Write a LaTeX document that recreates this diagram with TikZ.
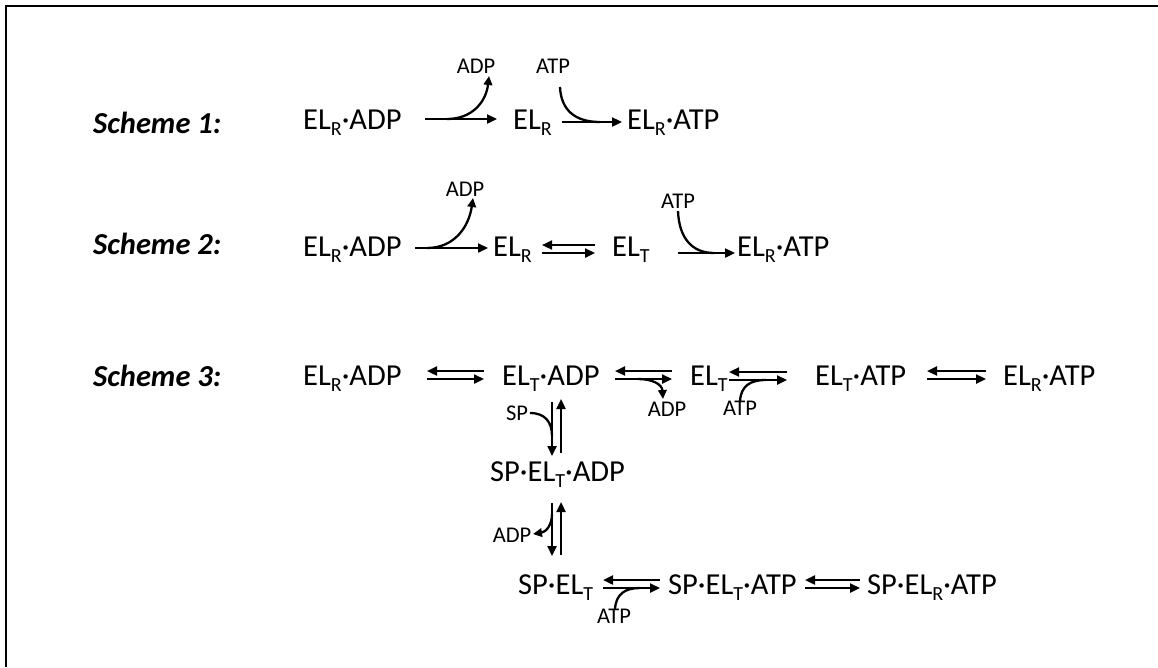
\documentclass[tikz,border=0pt]{standalone}
\usepackage{fontspec}
\setmainfont{Carlito}
\usetikzlibrary{arrows.meta}
\newcommand\sbs[1]{\raisebox{-6pt}{\fontsize{20}{20}\selectfont #1}}
\tikzset{
  species/.style={anchor=base west, inner sep=0pt, font=\fontsize{30.5}{34}\selectfont},
  schemelbl/.style={anchor=base west, inner sep=0pt, font=\fontsize{30.5}{34}\selectfont\bfseries\itshape},
  small/.style={anchor=base, inner sep=0pt, font=\fontsize{22.5}{24}\selectfont},
  rxn/.style={line width=2.3pt, -{Triangle[length=10pt,width=9pt]}},
  branch/.style={line width=2.3pt},
  branchhead/.style={line width=2.3pt, -{Triangle[length=9pt,width=8.5pt]}},
  frame/.style={line width=2pt}
}
% equilibrium double arrow: name, x1, x2, y
\newcommand\eqarrow[4]{%
  \coordinate (#1l1) at (#2,#4-4); \coordinate (#1r1) at (#3,#4-4);
  \coordinate (#1l2) at (#2,#4+4); \coordinate (#1r2) at (#3,#4+4);
  \draw[rxn] (#1r1) -- (#1l1);
  \draw[rxn] (#1l2) -- (#1r2);
}
\begin{document}
\begin{tikzpicture}[x=1pt,y=-1pt]
\useasboundingbox (0,0) rectangle (1158,667);
\coordinate (fbl) at (5.5,667); \coordinate (ftl) at (5.5,6); \coordinate (ftr) at (1158,6);
\draw[frame] (fbl) -- (ftl) -- (ftr);

% scheme labels
\node[schemelbl] (s1) at (93,133) {Scheme 1:};
\node[schemelbl] (s2) at (93,254) {Scheme 2:};
\node[schemelbl] (s3) at (93,386) {Scheme 3:};

% ---------- Scheme 1 ----------
\node[species] (a1) at (303,129) {EL\sbs{R}·ADP};
\node[species] (a2) at (513,129) {EL\sbs{R}};
\node[species] (a3) at (627,129) {EL\sbs{R}·ATP};
\node[small] (a1adp) at (476,73) {ADP};
\node[small] (a1atp) at (553,73) {ATP};
\coordinate (a1s) at (425,119); \coordinate (a1e) at (497,119);
\draw[rxn] (a1s) -- (a1e);
\coordinate (a1b) at (447,119); \coordinate (a1t) at (489,76);
\draw[branchhead] (a1b) .. controls (472,119) and (486,102) .. (a1t);
\coordinate (a2s) at (562,122); \coordinate (a2e) at (622,122);
\draw[rxn] (a2s) -- (a2e);
\coordinate (a2b) at (560,87); \coordinate (a2j) at (600,122);
\draw[branch] (a2b) .. controls (561,110) and (575,122) .. (a2j);

% ---------- Scheme 2 ----------
\node[species] (b1) at (303,256.5) {EL\sbs{R}·ADP};
\node[species] (b2) at (493,256.5) {EL\sbs{R}};
\node[species] (b3) at (612,256.5) {EL\sbs{T}};
\node[species] (b4) at (737,256.5) {EL\sbs{R}·ATP};
\node[small] (b1adp) at (465,196) {ADP};
\node[small] (b1atp) at (678,208) {ATP};
\coordinate (b1s) at (415,248); \coordinate (b1e) at (488,248);
\draw[rxn] (b1s) -- (b1e);
\coordinate (b1b) at (427,248); \coordinate (b1t) at (473,198);
\draw[branchhead] (b1b) .. controls (455,248) and (469,226) .. (b1t);
\eqarrow{be}{542}{595}{249}
\coordinate (b3s) at (678,253); \coordinate (b3e) at (735,253);
\draw[rxn] (b3s) -- (b3e);
\coordinate (b3b) at (678,211); \coordinate (b3j) at (714,253);
\draw[branch] (b3b) .. controls (679,238) and (692,253) .. (b3j);

% ---------- Scheme 3 ----------
\node[species] (c1) at (303,385) {EL\sbs{R}·ADP};
\node[species] (c2) at (502,385) {EL\sbs{T}·ADP};
\node[species] (c3) at (690,385) {EL\sbs{T}};
\node[species] (c4) at (815,385) {EL\sbs{T}·ATP};
\node[species] (c5) at (1003,385) {EL\sbs{R}·ATP};
\eqarrow{ca}{427}{484}{375}
\eqarrow{cb}{615}{672}{375}
\eqarrow{cc}{729}{787}{376}
\eqarrow{cd}{927}{986}{375}
\node[small] (cadp) at (667,416) {ADP};
\node[small] (catp) at (740,415) {ATP};
\coordinate (cbb) at (638,379); \coordinate (cbt) at (663,399);
\draw[branchhead] (cbb) .. controls (652,379) and (662,384) .. (cbt);
\coordinate (ccb) at (740,401); \coordinate (ccj) at (766,380);
\draw[branch] (ccb) .. controls (741,386) and (750,380) .. (ccj);

% vertical branch
\node[species] (d1) at (490,481) {SP·EL\sbs{T}·ADP};
\node[small] (dsp) at (517,420) {SP};
\coordinate (v1s) at (552,402); \coordinate (v1e) at (552,456);
\coordinate (v2s) at (561,453); \coordinate (v2e) at (561,399);
\draw[rxn] (v1s) -- (v1e);
\draw[rxn] (v2s) -- (v2e);
\coordinate (dspb) at (530,413); \coordinate (dspj) at (552,436);
\draw[branch] (dspb) .. controls (545,413) and (552,422) .. (dspj);

\node[small] (dadp) at (512,542) {ADP};
\coordinate (v3s) at (552,503); \coordinate (v3e) at (552,556);
\coordinate (v4s) at (561,555); \coordinate (v4e) at (561,502);
\draw[rxn] (v3s) -- (v3e);
\draw[rxn] (v4s) -- (v4e);
\coordinate (dadb) at (552,514); \coordinate (dadt) at (533,534);
\draw[branchhead] (dadb) .. controls (552,525) and (546,532) .. (dadt);

% bottom row
\node[species] (e1) at (518,594) {SP·EL\sbs{T}};
\node[species] (e2) at (668,594) {SP·EL\sbs{T}·ATP};
\node[species] (e3) at (867,594) {SP·EL\sbs{R}·ATP};
\eqarrow{ea}{603}{660}{584}
\eqarrow{eb}{805}{860}{584}
\node[small] (eatp) at (614,623) {ATP};
\coordinate (eab) at (615,609); \coordinate (eaj) at (640,588);
\draw[branch] (eab) .. controls (616,594) and (625,588) .. (eaj);
\end{tikzpicture}
\end{document}
